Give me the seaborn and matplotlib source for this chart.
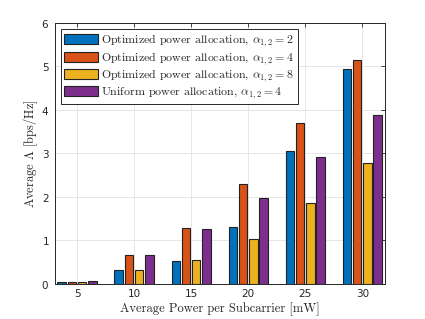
import pandas as pd
import matplotlib.pyplot as plt
import seaborn as sns

# --- data ---
powers = [5, 10, 15, 20, 25, 30]
opt_a2 = [0.05, 0.33, 0.53, 1.31, 3.05, 4.94]
opt_a4 = [0.04, 0.66, 1.29, 2.29, 3.69, 5.15]
opt_a8 = [0.05, 0.33, 0.56, 1.04, 1.87, 2.79]
uni_a4 = [0.06, 0.66, 1.26, 1.97, 2.91, 3.88]

labels = [
    r"Optimized power allocation, $\alpha_{1,2} = 2$",
    r"Optimized power allocation, $\alpha_{1,2} = 4$",
    r"Optimized power allocation, $\alpha_{1,2} = 8$",
    r"Uniform power allocation, $\alpha_{1,2} = 4$",
]
colors = ["#0072BD", "#D95319", "#EDB120", "#7E2F8E"]

rows = []
for lab, vals in zip(labels, [opt_a2, opt_a4, opt_a8, uni_a4]):
    for p, v in zip(powers, vals):
        rows.append({"power": str(p), "value": v, "series": lab})
df = pd.DataFrame(rows)

sns.set_theme(style="whitegrid")
plt.rcParams["mathtext.fontset"] = "cm"
plt.rcParams["axes.formatter.use_mathtext"] = True

fig = plt.figure(figsize=(4.25, 3.19), dpi=100)
ax = fig.add_axes([0.129, 0.110, 0.777, 0.818])

sns.barplot(data=df, x="power", y="value", hue="series", palette=colors,
            saturation=1, width=0.72, gap=0.18, edgecolor="#222222",
            linewidth=0.8, errorbar=None, ax=ax)

ax.set_xlim(-0.39, 5.4)
ax.set_ylim(0, 6)
ax.set_yticks(range(7))
ax.grid(True, color="#e6e6e6", linewidth=0.7)
ax.set_axisbelow(True)
for s in ax.spines.values():
    s.set_color("#262626")
    s.set_linewidth(0.7)
ax.tick_params(axis="both", direction="in", length=3, width=0.6, color="#262626",
               labelsize=7.5, top=True, right=True, pad=4)
for t in ax.get_xticklabels() + ax.get_yticklabels():
    t.set_fontfamily("DejaVu Sans")

ax.set_xlabel("Average Power per Subcarrier [mW]", fontsize=9, family="cmr10", labelpad=2)
ax.set_ylabel(r"Average $\Lambda$ [bps/Hz]", fontsize=9, family="cmr10", labelpad=1)

leg = ax.legend(loc="upper left", prop={"family": "cmr10", "size": 8.6},
                frameon=True, fancybox=False, edgecolor="#262626", framealpha=1,
                handlelength=2.8, handleheight=0.9, handletextpad=0.3,
                labelspacing=0.1, borderpad=0.3, borderaxespad=0.5)
leg.get_frame().set_linewidth(0.7)

fig.savefig("out.png", dpi=100)
